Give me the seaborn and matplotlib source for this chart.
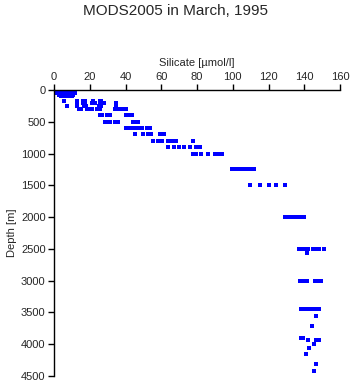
import numpy as np
import pandas as pd
import matplotlib
matplotlib.use("Agg")
import matplotlib.pyplot as plt
import seaborn as sns

# silicate readings grouped by depth level
depthLevels = [0, 10, 20, 30, 50, 75, 100, 175, 200, 250, 300, 400, 500, 600, 700, 800,
               900, 1000, 1250, 1500, 2000, 2500, 2560, 3000, 3450, 3550, 3720, 3900, 3930,
               3990, 4060, 4150, 4310, 4420]
silicateAtLevel = [
    [0.5, 1.5, 2.5, 3.5, 4.5, 5.5, 6.5, 7.5, 8.3],
    [0.8, 2, 3, 4.5, 6, 7.5, 8.5],
    [1, 2.5, 4, 5.5, 7, 8],
    [1, 3, 5, 7, 8.5],
    [0.5, 2, 4, 6, 8, 10, 11.5],
    [3, 5, 7, 9, 10.5],
    [4, 5.5, 7, 8.5, 10],
    [5.5, 13, 16.5, 17.5, 22, 25.5, 26.5],
    [13, 16.5, 17.5, 21.5, 23, 26, 28, 34.5],
    [7, 13, 17, 18, 25, 26.5, 34.5],
    [14, 15, 18.5, 20, 21.5, 24, 26, 34, 35.5, 37, 38.5, 40],
    [25.5, 27, 29.5, 31.5, 40.5, 42, 43.5],
    [28.5, 30, 31.5, 34, 36, 44, 45.5, 47],
    [40.5, 42, 43.5, 45, 46.5, 48, 49.5, 52, 53.5],
    [45.5, 50, 52.5, 54.5, 59.5, 61.5],
    [55.5, 58, 60.5, 63.5, 66, 68.5, 77.5],
    [64, 67, 70, 73, 76, 79.5, 81.5],
    [77.5, 79.5, 82, 86, 90, 92, 94],
    [99.5, 102, 103.5, 106, 108, 110, 112],
    [109.5, 115, 120, 124, 129],
    [129, 131, 133, 135, 137, 139, 140],
    [137, 138.5, 140.5, 142, 145, 146.5, 148.5, 151],
    [141.5],
    [137.5, 139.5, 141.5, 146, 148, 149.5],
    [138, 139.5, 141.5, 143, 145, 147, 148],
    [146.5],
    [144.5],
    [138, 139.5],
    [142, 146.5, 148],
    [145.5],
    [142.5],
    [141],
    [146.5],
    [145.5],
]

xTicks = [0, 20, 40, 60, 80, 100, 120, 140, 160]
yTicks = [0, 500, 1000, 1500, 2000, 2500, 3000, 3500, 4000, 4500]

rows = []
for d, vals in zip(depthLevels, silicateAtLevel):
    for v in vals:
        rows.append({"silicate": v, "depth": d})
df = pd.DataFrame(rows)

sns.set_style("ticks")
plt.rcParams['font.family'] = ['Liberation Sans', 'DejaVu Sans']

fig = plt.figure(figsize=(3.51, 3.84), dpi=100)
ax = fig.add_axes([54/351, 8/384, 286/351, 286/384])
sns.scatterplot(data=df, x="silicate", y="depth", ax=ax, marker="s", color="#0000ff",
                s=5.5, linewidth=0, legend=False)

ax.set_xlim(0, 160)
ax.set_ylim(4500, 0)
ax.set_xticks(xTicks)
ax.set_yticks(yTicks)
ax.xaxis.tick_top()
ax.xaxis.set_label_position("top")
ax.set_xlabel("Silicate [\u00b5mol/l]", fontsize=8, labelpad=4)
ax.set_ylabel("Depth [m]", fontsize=8, labelpad=3)
ax.tick_params(axis="both", labelsize=8, length=4, width=1, color="black", pad=2)
for s in ["bottom", "right"]:
    ax.spines[s].set_visible(False)
for s in ["top", "left"]:
    ax.spines[s].set_color("black")
    ax.spines[s].set_linewidth(1)

fig.text(0.5, 1 - 11/384, "MODS2005 in March, 1995", ha="center", va="center", fontsize=11)
plt.savefig("out.png", dpi=100)
plt.close()
